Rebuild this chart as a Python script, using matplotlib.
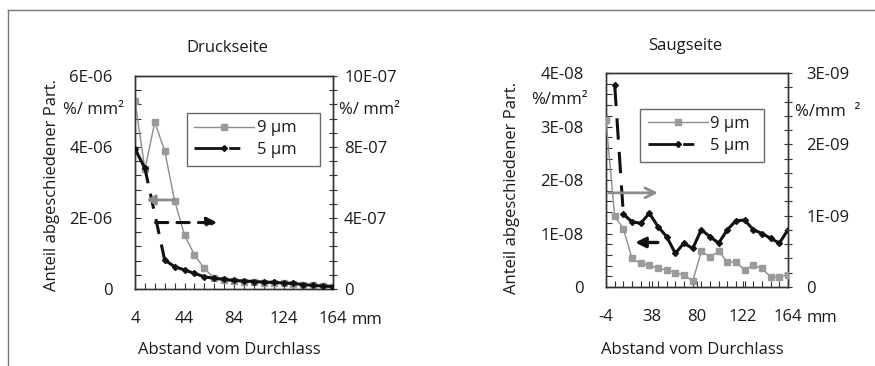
import numpy as np
import matplotlib
matplotlib.use('Agg')
import matplotlib.pyplot as plt
from matplotlib.lines import Line2D
from matplotlib.ticker import FixedLocator, MultipleLocator

plt.rcParams['font.family'] = ['Open Sans', 'DejaVu Sans']
FS = 12

W, H = 875, 366

# ---------------- data ----------------
# Druckseite (pressure side)
x_druck = [4, 12, 20, 28, 36, 44, 52, 60, 68, 76, 84, 92, 100, 108, 116,
           124, 132, 140, 148, 156, 164]
druck_9um = [5.30e-6, 3.37e-6, 4.70e-6, 3.89e-6, 2.49e-6, 1.52e-6, 0.96e-6,
             0.58e-6, 0.30e-6, 0.24e-6, 0.22e-6, 0.20e-6, 0.19e-6, 0.18e-6,
             0.17e-6, 0.16e-6, 0.15e-6, 0.12e-6, 0.10e-6, 0.08e-6, 0.07e-6]
druck_5um = [7.9e-7, 6.8e-7, np.nan, 1.63e-7, 1.26e-7, 1.07e-7, 0.88e-7,
             0.69e-7, 0.60e-7, 0.55e-7, 0.48e-7, 0.45e-7, 0.42e-7, 0.39e-7,
             0.37e-7, 0.34e-7, 0.31e-7, 0.25e-7, 0.20e-7, 0.17e-7, 0.14e-7]
druck_xticks = [4, 44, 84, 124, 164]
druck_left_ticks = [0, 2e-6, 4e-6, 6e-6]
druck_left_labels = ['0', '2E-06', '4E-06', '6E-06']
druck_right_ticks = [0, 4e-7, 8e-7, 1.2e-6]
druck_right_labels = ['0', '4E-07', '8E-07', '10E-07']

# Saugseite (suction side)
x_saug = [-4, 4, 12, 20, 28, 36, 44, 52, 60, 68, 76, 84, 92, 100, 108, 116,
          124, 132, 140, 148, 156, 164]
saug_9um = [2.34e-9, 0.99e-9, 0.82e-9, 0.40e-9, 0.33e-9, 0.31e-9, 0.26e-9,
            0.24e-9, 0.20e-9, 0.17e-9, 0.08e-9, 0.50e-9, 0.42e-9, 0.50e-9,
            0.35e-9, 0.35e-9, 0.24e-9, 0.31e-9, 0.26e-9, 0.14e-9, 0.14e-9,
            0.17e-9]
saug_5um = [np.nan, 3.78e-8, 1.36e-8, 1.22e-8, 1.19e-8, 1.38e-8, 1.13e-8,
            0.94e-8, 0.63e-8, 0.82e-8, 0.72e-8, 1.07e-8, 0.94e-8, 0.82e-8,
            1.07e-8, 1.24e-8, 1.25e-8, 1.07e-8, 1.00e-8, 0.91e-8, 0.82e-8,
            1.07e-8]
saug_xticks = [-4, 38, 80, 122, 164]
saug_left_ticks = [0, 1e-8, 2e-8, 3e-8, 4e-8]
saug_left_labels = ['0', '1E-08', '2E-08', '3E-08', '4E-08']
saug_right_ticks = [0, 1e-9, 2e-9, 3e-9]
saug_right_labels = ['0', '1E-09', '2E-09', '3E-09']

GRAY = '#8c8c8c'
GRAYM = '#9a9a9a'
BLACK = '#111111'
SPINE = '#333333'
TXT = '#1a1a1a'

fig = plt.figure(figsize=(W / 100, H / 100), dpi=100)
fig.patch.set_facecolor('white')


def px_axes(x0, y0, x1, y1):
    return fig.add_axes([x0 / W, 1 - y1 / H, (x1 - x0) / W, (y1 - y0) / H])


def ftext(x, y, s, **kw):
    kw.setdefault('fontsize', FS)
    kw.setdefault('color', TXT)
    fig.text(x / W, 1 - y / H, s, **kw)


def style_axes(ax, axr, xticks, xminor, lt, ll, lminor, rt, rl, rminor,
               xlim, lylim, rylim, lpad, rpad):
    ax.set_xlim(*xlim)
    ax.set_ylim(*lylim)
    axr.set_ylim(*rylim)
    ax.xaxis.set_major_locator(FixedLocator(xticks))
    ax.xaxis.set_minor_locator(FixedLocator(xminor))
    ax.set_xticklabels([str(t) for t in xticks])
    ax.yaxis.set_major_locator(FixedLocator(lt))
    ax.set_yticklabels(ll)
    ax.yaxis.set_minor_locator(MultipleLocator(lminor))
    axr.yaxis.set_major_locator(FixedLocator(rt))
    axr.set_yticklabels(rl)
    axr.yaxis.set_minor_locator(MultipleLocator(rminor))
    for a in (ax, axr):
        for s in a.spines.values():
            s.set_color(SPINE)
            s.set_linewidth(1.0)
    ax.tick_params(axis='x', which='both', direction='in', length=4,
                   width=0.8, color=SPINE, pad=16, labelsize=FS,
                   labelcolor=TXT, top=False)
    ax.tick_params(axis='y', which='both', direction='in', length=4,
                   width=0.8, color=SPINE, pad=lpad, labelsize=FS,
                   labelcolor=TXT, right=False)
    axr.tick_params(axis='y', which='both', direction='inout', length=6,
                    width=0.8, color=SPINE, pad=rpad, labelsize=FS,
                    labelcolor=TXT)
    ax.patch.set_alpha(0)
    axr.patch.set_alpha(0)


def legend(ax, box):
    h9 = Line2D([], [], color=GRAY, lw=1.0, marker='s', markersize=4,
                markerfacecolor=GRAYM, markeredgecolor=GRAYM)
    h5 = Line2D([], [], color=BLACK, lw=2.0, marker='D', markersize=3,
                linestyle=(0, (10, 2.5, 4, 30)))
    leg = ax.legend([h9, h5], ['9 µm', '5 µm'], loc='lower left',
                    bbox_to_anchor=box, mode='expand', fancybox=False,
                    frameon=True, fontsize=FS, handlelength=3.6,
                    handletextpad=0.15, borderaxespad=0, labelspacing=0.35,
                    borderpad=0.45)
    leg._legend_box.align = 'right'
    leg.get_frame().set_edgecolor('#444444')
    leg.get_frame().set_linewidth(1.0)
    for t in leg.get_texts():
        t.set_color(TXT)
    return leg


# ---------------- Druckseite ----------------
ax1 = px_axes(135, 76, 333, 289)
ax1r = ax1.twinx()
style_axes(ax1, ax1r, druck_xticks, x_druck, druck_left_ticks,
           druck_left_labels, 4e-7, druck_right_ticks, druck_right_labels,
           8e-8, (4, 164), (0, 6e-6), (0, 1.2e-6), 16, 5)

ax1.plot(x_druck, druck_9um, color=GRAY, lw=1.0, marker='s', markersize=4,
         markerfacecolor=GRAYM, markeredgecolor=GRAYM, zorder=3)
xd = np.array(x_druck, dtype=float)
yd = np.array(druck_5um, dtype=float)
ax1r.plot(xd[:2], yd[:2], color=BLACK, lw=2.2, marker='D', markersize=3,
          zorder=3)
ax1r.plot([xd[1], xd[3]], [yd[1], yd[3]], color=BLACK, lw=2.2,
          linestyle=(0, (5, 3.5)), zorder=3)
ax1r.plot(xd[3:], yd[3:], color=BLACK, lw=2.2, marker='D', markersize=3,
          zorder=3)
# axis-assignment arrows
ax1r.annotate('', xy=(0.045, 0.418), xytext=(0.215, 0.418),
              xycoords='axes fraction',
              arrowprops=dict(arrowstyle='-|>,head_length=0.5,head_width=0.3',
                              color=GRAY, lw=2.0))
ax1r.annotate('', xy=(0.43, 0.312), xytext=(0.09, 0.312),
              xycoords='axes fraction',
              arrowprops=dict(arrowstyle='-|>,head_length=0.6,head_width=0.3',
                              color=BLACK, lw=2.2, linestyle=(0, (4, 3))))
legend(ax1r, (0.261, 0.579, 0.673, 0.308))

ftext(227, 48, 'Druckseite', ha='center', va='center')
ftext(52, 185, 'Anteil abgeschiedener Part.', rotation=90, ha='center',
      va='center')
ftext(124, 110, '%/ mm²', ha='right', va='center')
ftext(339, 110, '%/ mm²', ha='left', va='center')
ftext(352, 320, 'mm', ha='left', va='center')
ftext(229, 350, 'Abstand vom Durchlass', ha='center', va='center')

# ---------------- Saugseite ----------------
ax2 = px_axes(606, 73, 788, 287)
ax2r = ax2.twinx()
style_axes(ax2, ax2r, saug_xticks, x_saug, saug_left_ticks,
           saug_left_labels, 2e-9, saug_right_ticks, saug_right_labels,
           2e-10, (-4, 164), (0, 4e-8), (0, 3e-9), 16, 10)

xs = np.array(x_saug, dtype=float)
ys = np.array(saug_5um, dtype=float)
ax2.plot(xs[1:2], ys[1:2], color=BLACK, lw=2.2, marker='D', markersize=3,
         zorder=3)
ax2.plot(xs[1:3], ys[1:3], color=BLACK, lw=2.2, linestyle=(0, (7, 4)),
         zorder=3)
ax2.plot(xs[2:], ys[2:], color=BLACK, lw=2.2, marker='D', markersize=3,
         zorder=3)
ax2r.plot(x_saug, saug_9um, color=GRAY, lw=1.0, marker='s', markersize=4,
          markerfacecolor=GRAYM, markeredgecolor=GRAYM, zorder=3)
ax2r.annotate('', xy=(0.30, 0.44), xytext=(0.0, 0.44),
              xycoords='axes fraction',
              arrowprops=dict(arrowstyle='->,head_length=0.7,head_width=0.35',
                              color=GRAY, lw=2.0))
ax2r.annotate('', xy=(0.145, 0.208), xytext=(0.30, 0.208),
              xycoords='axes fraction',
              arrowprops=dict(arrowstyle='-|>,head_length=0.6,head_width=0.3',
                              color=BLACK, lw=2.4))
legend(ax2r, (0.187, 0.586, 0.681, 0.308))

ftext(685, 46, 'Saugseite', ha='center', va='center')
ftext(512, 188, 'Anteil abgeschiedener Part.', rotation=90, ha='center',
      va='center')
ftext(588, 100, '%/mm²', ha='right', va='center')
ftext(795, 112, '%/mm  ²', ha='left', va='center')
ftext(807, 318, 'mm', ha='left', va='center')
ftext(692, 350, 'Abstand vom Durchlass', ha='center', va='center')

# figure frame lines
fig.add_artist(Line2D([8 / W, 1], [1 - 10 / H, 1 - 10 / H], color='#777777',
                      lw=1.0, transform=fig.transFigure))
fig.add_artist(Line2D([8 / W, 8 / W], [0, 1 - 10 / H], color='#777777',
                      lw=1.0, transform=fig.transFigure))

fig.savefig('out.png', dpi=100)
